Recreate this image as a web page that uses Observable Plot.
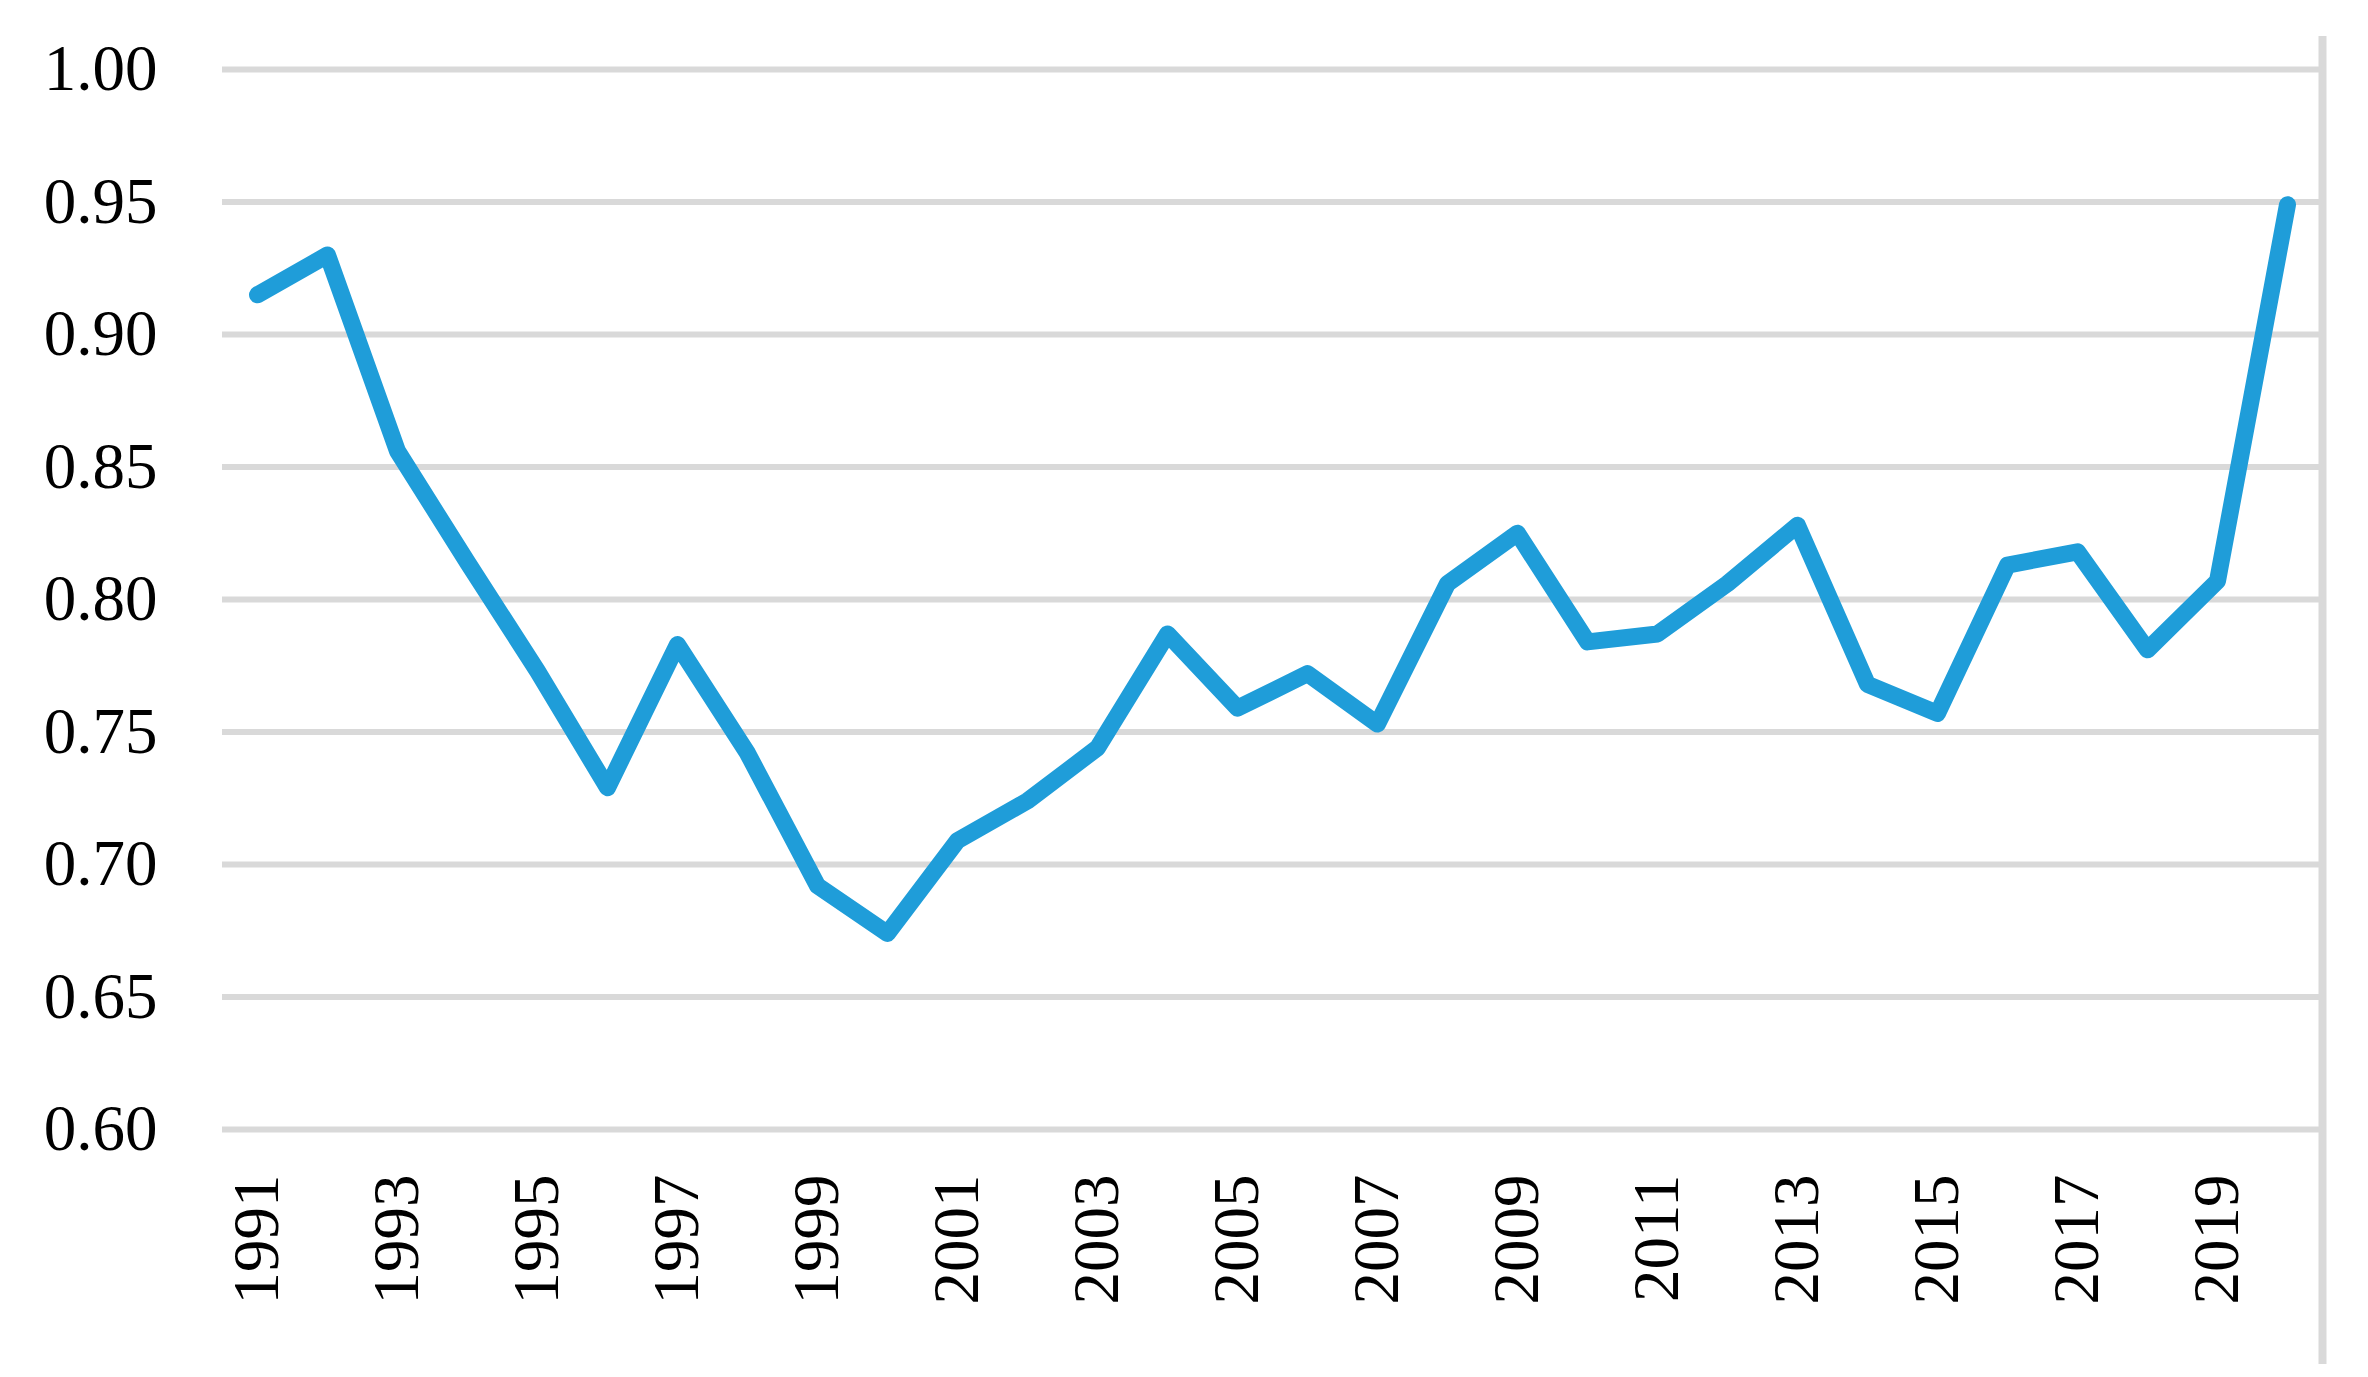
<!DOCTYPE html>
<html><head><meta charset="utf-8">
<script src="https://cdn.jsdelivr.net/npm/d3@7"></script>
<script src="https://cdn.jsdelivr.net/npm/@observablehq/plot@0.6"></script>
<style>html,body{margin:0;padding:0;background:#fff;}</style>
</head><body><div id="chart"></div>
<script>
const years = [1991,1992,1993,1994,1995,1996,1997,1998,1999,2000,2001,2002,2003,2004,2005,2006,2007,2008,2009,2010,2011,2012,2013,2014,2015,2016,2017,2018,2019,2020];
const values = [0.915,0.930,0.856,0.814,0.773,0.729,0.783,0.742,0.692,0.674,0.709,0.724,0.744,0.787,0.759,0.772,0.753,0.806,0.825,0.784,0.787,0.806,0.828,0.768,0.757,0.813,0.818,0.781,0.807,0.949];
const yTicks = [0.60,0.65,0.70,0.75,0.80,0.85,0.90,0.95,1.00];
const xTicks = [1991,1993,1995,1997,1999,2001,2003,2005,2007,2009,2011,2013,2015,2017,2019];
const data = years.map((year, i) => ({year, value: values[i]}));

const chart = Plot.plot({
  width: 2368,
  height: 1377,
  marginLeft: 222,
  marginRight: 46,
  marginTop: 69,
  marginBottom: 248,
  style: {fontFamily: "'Liberation Serif', serif", fontSize: "65px", color: "#000", background: "#fff"},
  x: {domain: [1990.5, 2020.5]},
  y: {domain: [0.6, 1.0]},
  marks: [
    Plot.ruleY(yTicks, {stroke: "#d9d9d9", strokeWidth: 6}),
    Plot.ruleX([2020.5], {stroke: "#d9d9d9", strokeWidth: 8, insetTop: -33, insetBottom: -235}),
    Plot.axisY({ticks: yTicks, tickFormat: d => d.toFixed(2), tickSize: 0, tickPadding: 65, label: null}),
    Plot.axisX({ticks: xTicks, tickFormat: d => String(d), tickRotate: -90, tickSize: 0, tickPadding: 45, label: null}),
    Plot.line(data, {x: "year", y: "value", stroke: "#1f9dd9", strokeWidth: 17, strokeLinejoin: "round", strokeLinecap: "round"})
  ]
});
document.getElementById("chart").append(chart);
</script>
</body></html>
